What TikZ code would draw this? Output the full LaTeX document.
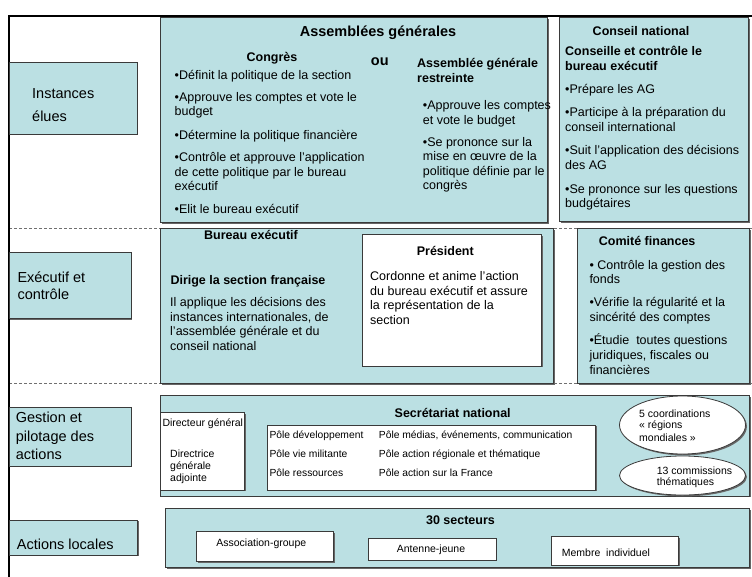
\documentclass[tikz,border=0pt]{standalone}
\usepackage{fontspec}
\setmainfont{Liberation Sans}
\usetikzlibrary{shadows}
\definecolor{tealbg}{HTML}{BBE0E3}
\definecolor{edgec}{HTML}{3A3A3A}
\definecolor{dashc}{HTML}{707070}
\begin{document}
\begin{tikzpicture}[x=1pt,y=-1pt,
  panel/.style={draw=edgec,line width=0.8pt,fill=tealbg,
    drop shadow={shadow xshift=1.4pt,shadow yshift=-1.4pt,fill=black!60,opacity=1}},
  wpanel/.style={panel,fill=white},
  sepline/.style={draw=dashc,line width=1.2pt,dash pattern=on 3pt off 2pt},
  lab/.style={anchor=base west,inner sep=0pt,font=\fontsize{12.5}{15}\selectfont},
  labc/.style={lab,anchor=base},
  tbold/.style={font=\fontsize{12.5}{15}\selectfont\bfseries},
  tbig/.style={font=\fontsize{14.5}{17}\selectfont},
  tbigb/.style={font=\fontsize{14.5}{17}\selectfont\bfseries},
  tsmall/.style={font=\fontsize{10.5}{12}\selectfont},
  tpole/.style={font=\fontsize{10.3}{12}\selectfont}
]
\useasboundingbox (0,0) rectangle (752,576);
\clip (0,0) rectangle (752,576);
\fill[white] (0,0) rectangle (752,576);

% separators
\draw[sepline] (9,228.3) -- (752,228.3);
\draw[sepline] (9,383.3) -- (752,383.3);

% outer frame
\draw[line width=2.5pt] (9,600) -- (9,16) -- (770,16);

% left labels
\draw[panel] (9,62) rectangle (137,134);
\draw[panel] (9,252.3) rectangle (131,318.3);
\draw[panel] (9,407.3) rectangle (131,466);
\draw[panel] (9,520) rectangle (137.3,555);
\node[lab,tbig] (ie1) at (32,98.3) {Instances};
\node[lab,tbig] (ie2) at (32,121.7) {élues};
\node[lab,tbig] (ec1) at (17.3,282.3) {Exécutif et};
\node[lab,tbig] (ec2) at (17.3,299) {contrôle};
\node[lab,tbig] (gp1) at (15.7,422.7) {Gestion et};
\node[lab,tbig] (gp2) at (15.7,441) {pilotage des};
\node[lab,tbig] (gp3) at (15.7,459) {actions};
\node[lab,tbig] (al1) at (16.7,549) {Actions locales};

% Assemblees generales
\draw[panel] (160.7,17.5) rectangle (547.7,222.7);
\node[labc,tbigb] (agt) at (378,36) {Assemblées générales};
\node[labc,tbold] (cgt) at (272,61.5) {Congrès};
\node[lab,tbigb] (ou) at (370.7,65.7) {ou};
\foreach \t/\y [count=\i] in {
  {•Définit la politique de la section}/79,
  {•Approuve les comptes et vote le}/101.3,
  {budget}/115.7,
  {•Détermine la politique financière}/139.5,
  {•Contrôle et approuve l’application}/161.5,
  {de cette politique par le bureau}/176,
  {exécutif}/190.5,
  {•Elit le bureau exécutif}/213.7}
  \node[lab] (cg\i) at (174.5,\y) {\t};
\node[lab,tbold] (agr1) at (417,67.3) {Assemblée générale};
\node[lab,tbold] (agr2) at (417,82.3) {restreinte};
\foreach \t/\y [count=\i] in {
  {•Approuve les comptes}/109,
  {et vote le budget}/124,
  {•Se prononce sur la}/146.3,
  {mise en œuvre de la}/160.7,
  {politique définie par le}/175,
  {congrès}/189}
  \node[lab] (rs\i) at (422.7,\y) {\t};

% Conseil national
\draw[panel] (559.3,17.5) rectangle (748.7,221.7);
\node[labc,tbold] (cnt) at (641,35) {Conseil national};
\node[lab,tbold] (cn1) at (565,55.7) {Conseille et contrôle le};
\node[lab,tbold] (cn2) at (565,70.7) {bureau exécutif};
\foreach \t/\y [count=\i] in {
  {•Prépare les AG}/93.3,
  {•Participe à la préparation du}/116.7,
  {conseil international}/131.3,
  {•Suit l’application des décisions}/154.7,
  {des AG}/169.7,
  {•Se prononce sur les questions}/193,
  {budgétaires}/207.3}
  \node[lab] (cb\i) at (565,\y) {\t};

% Bureau executif
\draw[panel] (160.7,228.7) rectangle (553.5,383.3);
\node[labc,tbold] (bet) at (251,239) {Bureau exécutif};
\node[lab,tbold] (be0) at (170.3,284.7) {Dirige la section française};
\foreach \t/\y [count=\i] in {
  {Il applique les décisions des}/306.7,
  {instances internationales, de}/321.3,
  {l’assemblée générale et du}/335.7,
  {conseil national}/350.7}
  \node[lab] (be\i) at (170,\y) {\t};

% President
\draw[wpanel] (362.7,234.3) rectangle (541.7,366);
\node[labc,tbold] (prt) at (445.3,255.7) {Président};
\foreach \t/\y [count=\i] in {
  {Cordonne et anime l’action}/280.7,
  {du bureau exécutif et assure}/295,
  {la représentation de la}/309.7,
  {section}/324}
  \node[lab] (pr\i) at (370,\y) {\t};

% Comite finances
\draw[panel] (577.5,228.7) rectangle (749.3,383.3);
\node[lab,tbold] (cft) at (598.7,245.7) {Comité finances};
\foreach \t/\y [count=\i] in {
  {• Contrôle la gestion des}/269,
  {fonds}/283.3,
  {•Vérifie la régularité et la}/306.7,
  {sincérité des comptes}/321.3,
  {•Étudie\ \ toutes questions}/344,
  {juridiques, fiscales ou}/359,
  {financières}/374}
  \node[lab] (cf\i) at (589.3,\y) {\t};

% Secretariat national
\draw[panel] (160.7,395.3) rectangle (749.3,496);
\node[labc,tbold] (snt) at (452.7,417.3) {Secrétariat national};
\draw[wpanel] (160.7,412.7) rectangle (244.3,490);
\node[lab,tsmall] (dg1) at (162.3,426.8) {Directeur général};
\node[lab,tsmall] (dg2) at (170,457.5) {Directrice};
\node[lab,tsmall] (dg3) at (170,469.5) {générale};
\node[lab,tsmall] (dg4) at (170,481.8) {adjointe};
\draw[wpanel] (267.7,425) rectangle (595.3,490);
\node[lab,tpole] (pa1) at (269.3,438.5) {Pôle développement};
\node[lab,tpole] (pa2) at (269.3,457.5) {Pôle vie militante};
\node[lab,tpole] (pa3) at (269.3,476.2) {Pôle ressources};
\node[lab,tpole] (pb1) at (378.7,438.5) {Pôle médias, événements, communication};
\node[lab,tpole] (pb2) at (378.7,457.5) {Pôle action régionale et thématique};
\node[lab,tpole] (pb3) at (378.7,476.2) {Pôle action sur la France};
\draw[wpanel] (682.5,425) ellipse [x radius=63, y radius=29];
\node[lab,tsmall] (el1) at (639,417) {5 coordinations};
\node[lab,tsmall] (el2) at (639,428.7) {« régions};
\node[lab,tsmall] (el3) at (639,441) {mondiales »};
\draw[wpanel] (682.5,475.5) ellipse [x radius=63, y radius=19.5];
\node[lab,tsmall] (ct1) at (656.7,474.7) {13 commissions};
\node[lab,tsmall] (ct2) at (656.7,485.4) {thématiques};

% 30 secteurs
\draw[panel] (165.7,508.3) rectangle (749.3,567.3);
\node[labc,tbold] (sct) at (460.5,524.5) {30 secteurs};
\draw[wpanel] (196.7,531.7) rectangle (333.3,561.7);
\node[labc,tsmall] (ag) at (261.3,546.2) {Association-groupe};
\draw[wpanel] (368.3,538.3) rectangle (496,560);
\node[labc,tsmall] (aj) at (431,552.5) {Antenne-jeune};
\draw[wpanel] (551.7,536.7) rectangle (678.7,565);
\node[lab,tsmall] (mi) at (561.7,556.8) {Membre\ \ individuel};
\end{tikzpicture}
\end{document}
